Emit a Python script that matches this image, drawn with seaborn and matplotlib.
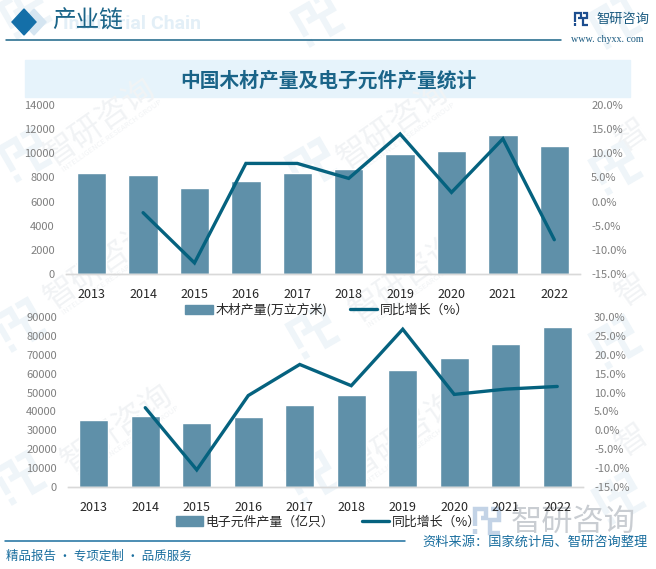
import numpy as np
import pandas as pd
import matplotlib
matplotlib.use("Agg")
import matplotlib.pyplot as plt
import matplotlib.transforms as mtrans
from matplotlib.patches import Patch, Polygon, Rectangle
from matplotlib.lines import Line2D
import seaborn as sns

# --- Data ---
years = ["2013", "2014", "2015", "2016", "2017", "2018", "2019", "2020", "2021", "2022"]
wood_output = [8400, 8220, 7150, 7720, 8400, 8720, 9980, 10220, 11550, 10630]
wood_growth = [np.nan, -2.3, -12.7, 7.9, 7.9, 4.8, 14.0, 1.9, 13.0, -7.9]
parts_output = [35500, 37600, 33900, 37100, 43400, 48700, 61900, 68200, 75600, 84500]
parts_growth = [np.nan, 6.0, -10.4, 9.2, 17.4, 11.8, 26.7, 9.5, 10.9, 11.6]

wood_ticks = [0, 2000, 4000, 6000, 8000, 10000, 12000, 14000]
parts_ticks = [0, 10000, 20000, 30000, 40000, 50000, 60000, 70000, 80000, 90000]
wood_pct_ticks = [-15, -10, -5, 0, 5, 10, 15, 20]
parts_pct_ticks = [-15, -10, -5, 0, 5, 10, 15, 20, 25, 30]

# --- Style ---
W, H = 656, 569
BAR = "#5f90a9"
LINE = "#05627f"
TEAL = "#1a6488"
BLUE = "#1b6f9f"
MARK = "#eff5f9"
MARK_TXT = "#f1f3f5"

sns.set_theme(style="white")
plt.rcParams["font.family"] = ["Noto Sans CJK SC", "DejaVu Sans"]
plt.rcParams["axes.unicode_minus"] = False

fig = plt.figure(figsize=(W / 100, H / 100), dpi=100, facecolor="white")

# background layer in pixel coordinates
bg = fig.add_axes([0, 0, 1, 1], zorder=-1)
bg.set_xlim(0, W)
bg.set_ylim(H, 0)
bg.axis("off")


def logo(ax, cx, cy, s, color, angle=0.0, lw=2.0, z=1):
    # the company mark: a "P" shape on the left, a "2" shape on the right
    tr = mtrans.Affine2D().scale(s).rotate_deg(angle).translate(cx, cy) + ax.transData
    strokes = [
        [(-0.9, 0.4), (-0.9, -0.9), (-0.05, -0.9), (-0.05, -0.2), (-0.5, -0.2)],
        [(-0.9, 0.65), (-0.9, 1.0)],
        [(0.3, -0.9), (0.9, -0.9), (0.9, -0.1), (0.25, -0.1), (0.25, 0.9), (1.0, 0.9)],
    ]
    for st in strokes:
        xs, ys = zip(*st)
        ax.add_line(Line2D(xs, ys, color=color, lw=lw, transform=tr, zorder=z,
                           solid_capstyle="butt", solid_joinstyle="miter"))


icon_spots = [(25, 12), (318, 20), (615, 22), (25, 155), (312, 165), (616, 168),
              (20, 325), (313, 332), (616, 342), (20, 478), (313, 478), (619, 498)]
for cx, cy in icon_spots:
    logo(bg, cx, cy, 20, MARK, angle=-30, lw=4.5)

text_spots = [(100, 122), (393, 125), (100, 265), (405, 278), (117, 428), (403, 435)]
for cx, cy in text_spots:
    bg.text(cx, cy, "智研咨询", fontsize=23, color=MARK_TXT, rotation=35,
            ha="center", va="center")
    bg.text(cx + 12, cy + 14, "INTELLIGENCE RESEARCH GROUP", fontsize=5.5, color=MARK_TXT,
            rotation=35, ha="center", va="center")
for cx, cy in [(632, 135), (632, 290), (632, 440)]:
    bg.text(cx, cy, "智", fontsize=23, color=MARK_TXT, rotation=35, ha="center", va="center")

# big footer mark sits under the axis labels
logo(bg, 487, 521, 13, "#c3d3e6", lw=3.2, z=3)
bg.text(511, 522, "智研咨询", fontsize=22.5, color="#c9cdd2", va="center", zorder=3)

# --- Header ---
bg.text(63, 24, "Industrial Chain", fontsize=14, color="#e3eff7", fontweight="bold",
        va="center", family="Roboto")
bg.add_patch(Polygon([(34, 9), (46, 22), (34, 35), (22, 22)], color="#d5e5f1", zorder=2))
bg.add_patch(Polygon([(24, 9), (36, 22), (24, 35), (12, 22)], color="#146fa8", zorder=3))
bg.text(52, 21, "产业链", fontsize=17, color=TEAL, va="center", zorder=4)
bg.add_line(Line2D([6, 561], [40, 40], color=TEAL, lw=1.1))
logo(bg, 581, 19, 6.5, "#1d4e8f", lw=1.6)
bg.text(596, 19, "智研咨询", fontsize=9.5, color="#1a5a80", va="center")
bg.text(571, 39, "www. chyxx. com", fontsize=7.2, color="#1a5a80", va="center",
        family="Liberation Serif")

bg.add_patch(Rectangle((25, 60), 605, 37, color="#e6f3fb", zorder=2))
bg.text(328, 81, "中国木材产量及电子元件产量统计", fontsize=14.2, color=TEAL,
        ha="center", va="center", fontweight="bold", zorder=3)


def panel(left, right, top, bottom, output, growth, ticks, pct_ticks, bar_label, leg_y, leg_x, leg_gap):
    ax = fig.add_axes([left / W, 1 - bottom / H, (right - left) / W, (bottom - top) / H], zorder=1)
    ax.patch.set_alpha(0)
    df = pd.DataFrame({"year": years, "output": output, "growth": growth})
    sns.barplot(data=df, x="year", y="output", color=BAR, saturation=1, width=0.57, ax=ax)
    ax.set_ylim(ticks[0], ticks[-1])
    ax.set_yticks(ticks)
    ax.set_xlabel("")
    ax.set_ylabel("")

    ax2 = ax.twinx()
    ax2.patch.set_alpha(0)
    sns.pointplot(data=df, x="year", y="growth", color=LINE, markers="", linewidth=2.4,
                  errorbar=None, ax=ax2)
    ax2.lines[0].set_solid_joinstyle("miter")
    ax2.set_xlim(-0.5, 9.5)
    ax2.set_ylim(pct_ticks[0], pct_ticks[-1])
    ax2.set_yticks(pct_ticks)
    ax2.set_yticklabels([f"{v:.1f}%" for v in pct_ticks])
    ax2.set_ylabel("")
    ax2.set_xlabel("")

    for a in (ax, ax2):
        sns.despine(ax=a, left=True, right=True, top=True)
        a.spines["bottom"].set_color("#d9d9d9")
        a.spines["bottom"].set_linewidth(1)
    ax.tick_params(axis="x", length=0, labelsize=9, labelcolor="#262626", pad=10)
    ax.tick_params(axis="y", length=0, labelsize=8, labelcolor="#7f7f7f", pad=8)
    ax2.tick_params(axis="y", length=0, labelsize=8, labelcolor="#7f7f7f", pad=8)

    handles = [Patch(color=BAR, label=bar_label),
               Line2D([0], [0], color=LINE, lw=2.4, label="同比增长（%）")]
    ax.legend(handles=handles, loc="center", ncol=2, frameon=False, fontsize=9.3,
              bbox_to_anchor=(leg_x / W, 1 - leg_y / H), bbox_transform=fig.transFigure,
              handlelength=2.1, handleheight=0.75, handletextpad=0.2, columnspacing=leg_gap,
              labelcolor="#262626")
    return ax, ax2


panel(66, 580, 105, 274, wood_output, wood_growth, wood_ticks, wood_pct_ticks,
      "木材产量(万立方米)", 310, 327, 1.75)
panel(68, 583, 316.7, 487.3, parts_output, parts_growth, parts_ticks, parts_pct_ticks,
      "电子元件产量（亿只）", 522, 328.5, 2.15)

# --- Footer ---
over = fig.add_axes([0, 0, 1, 1], zorder=5)
over.set_xlim(0, W)
over.set_ylim(H, 0)
over.axis("off")
over.add_line(Line2D([5, 405], [541, 541], color=BLUE, lw=1.1))
over.text(6, 556, "精品报告 · 专项定制 · 品质服务", fontsize=9, color=BLUE, va="center")
over.text(648, 542, "资料来源：国家统计局、智研咨询整理", fontsize=9.5, color=BLUE,
          va="center", ha="right")

fig.savefig("out.png", dpi=100)
